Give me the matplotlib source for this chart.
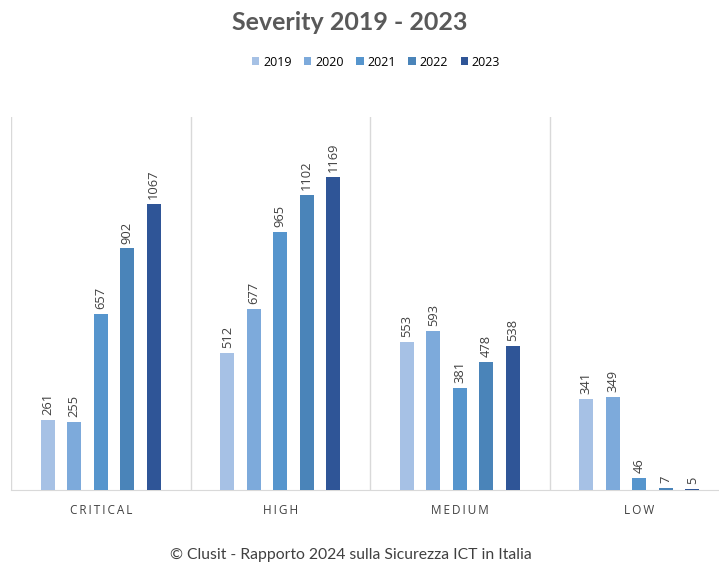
import numpy as np
import matplotlib.pyplot as plt

categories = ["CRITICAL", "HIGH", "MEDIUM", "LOW"]
years = ["2019", "2020", "2021", "2022", "2023"]
values = {
    "2019": [261, 512, 553, 341],
    "2020": [255, 677, 593, 349],
    "2021": [657, 965, 381, 46],
    "2022": [902, 1102, 478, 7],
    "2023": [1067, 1169, 538, 5],
}
colors = ["#A6C1E5", "#7DAADB", "#5695CD", "#4A84B9", "#2F5597"]

fig = plt.figure(figsize=(7.19, 5.62), dpi=100)
ax = fig.add_axes([11 / 719, 72 / 562, 708 / 719, 373 / 562])

x = np.arange(len(categories))
step = 0.1476
width = 0.078
for i, yr in enumerate(years):
    pos = x + (i - 2) * step
    bars = ax.bar(pos, values[yr], width, color=colors[i], label=yr, zorder=3)
    for b, v in zip(bars, values[yr]):
        ax.text(b.get_x() + b.get_width() / 2, v + 18, str(v), rotation=90,
                ha="center", va="bottom", fontsize=9.3, color="#404040",
                family="Open Sans")

ax.set_xlim(-0.5, -0.5 + 708 / 179.5)
ax.set_ylim(0, 1393)
ax.set_yticks([])
ax.set_xticks(x)
ax.set_xticklabels(["\u2009".join(c) for c in categories], fontsize=8.5,
                   color="#404040", family="Open Sans")
ax.tick_params(axis="x", length=0, pad=10)
for s in ["top", "right", "left"]:
    ax.spines[s].set_visible(False)
ax.spines["bottom"].set_color("#D9D9D9")
for k in range(len(categories)):
    ax.axvline(k - 0.5, color="#D9D9D9", lw=1, zorder=1)

fig.text(350 / 719, 0.96, "Severity 2019 - 2023", ha="center", va="center",
         fontsize=18, fontweight="bold", color="#595959", family="Lato")
fig.legend(loc="center", bbox_to_anchor=(376 / 719, 1 - 62 / 562), ncol=5,
           frameon=False, handlelength=0.6, handleheight=0.6,
           handletextpad=0.3, columnspacing=1.0, prop={"family": "Open Sans", "size": 9})
fig.text(351 / 719, 1 - 555 / 562, "\u00a9 Clusit - Rapporto 2024 sulla Sicurezza ICT in Italia",
         ha="center", va="center", fontsize=11.3, color="#404040", family="Lato")

fig.savefig("out.png", dpi=100)
